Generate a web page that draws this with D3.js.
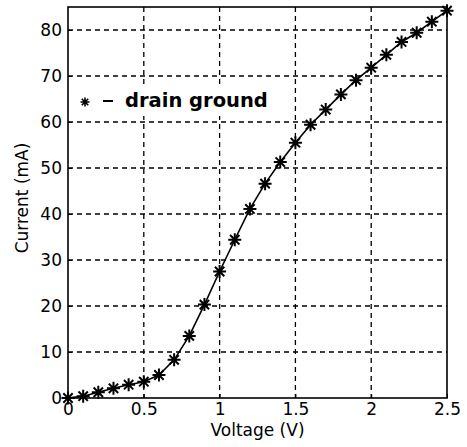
<!DOCTYPE html>
<html>
<head>
<meta charset="utf-8">
<script src="https://cdn.jsdelivr.net/npm/d3@7"></script>
<style>
  body { margin: 0; background: #fff; }
  text { font-family: "DejaVu Sans", sans-serif; fill: #000; }
</style>
</head>
<body>
<script>
// measured drain-ground I-V curve
var voltage = [0, 0.1, 0.2, 0.3, 0.4, 0.5, 0.6, 0.7, 0.8, 0.9, 1.0, 1.1, 1.2,
               1.3, 1.4, 1.5, 1.6, 1.7, 1.8, 1.9, 2.0, 2.1, 2.2, 2.3, 2.4, 2.5];
var current = [0, 0.4, 1.25, 2.1, 2.9, 3.55, 5.0, 8.3, 13.5, 20.3, 27.5, 34.4, 41.1,
               46.6, 51.3, 55.5, 59.4, 62.7, 66.0, 69.1, 71.8, 74.6, 77.4, 79.4, 81.8, 84.2];
var xTicks = [0, 0.5, 1, 1.5, 2, 2.5];
var yTicks = [0, 10, 20, 30, 40, 50, 60, 70, 80];
var legendLabel = "drain ground";

var w = 467;
var h = 447;
var margin = {top: 7, right: 20, bottom: 49, left: 68};
var iw = w - margin.left - margin.right;
var ih = h - margin.top - margin.bottom;

var svg = d3.select("body")
    .append("svg")
    .attr("width", w)
    .attr("height", h);

var g = svg.append("g")
    .attr("transform", "translate(" + margin.left + "," + margin.top + ")");

var x = d3.scaleLinear().domain([0, 2.5]).range([0, iw]);
var y = d3.scaleLinear().domain([0, 85]).range([ih, 0]);

// dashed grid
g.selectAll(".vgrid")
    .data(xTicks.slice(1, -1))
    .enter()
    .append("line")
    .attr("x1", function(d){ return x(d); })
    .attr("x2", function(d){ return x(d); })
    .attr("y1", 0)
    .attr("y2", ih)
    .attr("stroke", "#000")
    .attr("stroke-width", 1.3)
    .attr("stroke-dasharray", "5,4");

g.selectAll(".hgrid")
    .data(yTicks.slice(1))
    .enter()
    .append("line")
    .attr("x1", 0)
    .attr("x2", iw)
    .attr("y1", function(d){ return y(d); })
    .attr("y2", function(d){ return y(d); })
    .attr("stroke", "#000")
    .attr("stroke-width", 1.3)
    .attr("stroke-dasharray", "5,4");

// axes
var xAxis = g.append("g")
    .attr("transform", "translate(0," + ih + ")")
    .call(d3.axisBottom(x).tickValues(xTicks).tickFormat(d3.format("")).tickSizeInner(-4).tickSizeOuter(0).tickPadding(5));
var yAxis = g.append("g")
    .call(d3.axisLeft(y).tickValues(yTicks).tickSizeInner(-4).tickSizeOuter(0).tickPadding(6));

[xAxis, yAxis].forEach(function(a){
    a.select(".domain").remove();
    a.selectAll("text")
        .attr("font-family", "DejaVu Sans, sans-serif")
        .attr("font-size", "17px")
        .attr("fill", "#000");
    a.selectAll("line").attr("stroke", "#000");
});

// box
g.append("rect")
    .attr("width", iw)
    .attr("height", ih)
    .attr("fill", "none")
    .attr("stroke", "#000")
    .attr("stroke-width", 1.6);

// curve
var pts = voltage.map(function(v, i){ return [v, current[i]]; });

g.append("path")
    .datum(pts)
    .attr("fill", "none")
    .attr("stroke", "#000")
    .attr("stroke-width", 1.6)
    .attr("d", d3.line()
        .x(function(d){ return x(d[0]); })
        .y(function(d){ return y(d[1]); }));

// matlab-style '*' marker: plus + cross
function star(r) {
    var k = r * 0.72;
    return "M0," + (-r) + "L0," + r +
           "M" + (-r) + ",0L" + r + ",0" +
           "M" + (-k) + "," + (-k) + "L" + k + "," + k +
           "M" + (-k) + "," + k + "L" + k + "," + (-k);
}

g.selectAll(".mark")
    .data(pts)
    .enter()
    .append("path")
    .attr("transform", function(d){ return "translate(" + x(d[0]) + "," + y(d[1]) + ")"; })
    .attr("d", star(6.5))
    .attr("fill", "none")
    .attr("stroke", "#000")
    .attr("stroke-width", 2);

// legend (white box, no border)
var leg = svg.append("g");
leg.append("rect")
    .attr("x", 76)
    .attr("y", 84)
    .attr("width", 212)
    .attr("height", 32)
    .attr("fill", "#fff");
leg.append("path")
    .attr("transform", "translate(85,102)")
    .attr("d", star(4.5))
    .attr("fill", "none")
    .attr("stroke", "#000")
    .attr("stroke-width", 1.6);
leg.append("line")
    .attr("x1", 103)
    .attr("x2", 113)
    .attr("y1", 101)
    .attr("y2", 101)
    .attr("stroke", "#000")
    .attr("stroke-width", 2);
leg.append("text")
    .attr("x", 125)
    .attr("y", 107)
    .attr("font-size", "19.5px")
    .attr("font-weight", "bold")
    .text(legendLabel);

// axis labels
svg.append("text")
    .attr("x", margin.left + iw / 2)
    .attr("y", 436)
    .attr("text-anchor", "middle")
    .attr("font-size", "17px")
    .text("Voltage (V)");

svg.append("text")
    .attr("transform", "translate(28," + 198 + ") rotate(-90)")
    .attr("text-anchor", "middle")
    .attr("font-size", "17px")
    .text("Current (mA)");
</script>
</body>
</html>
